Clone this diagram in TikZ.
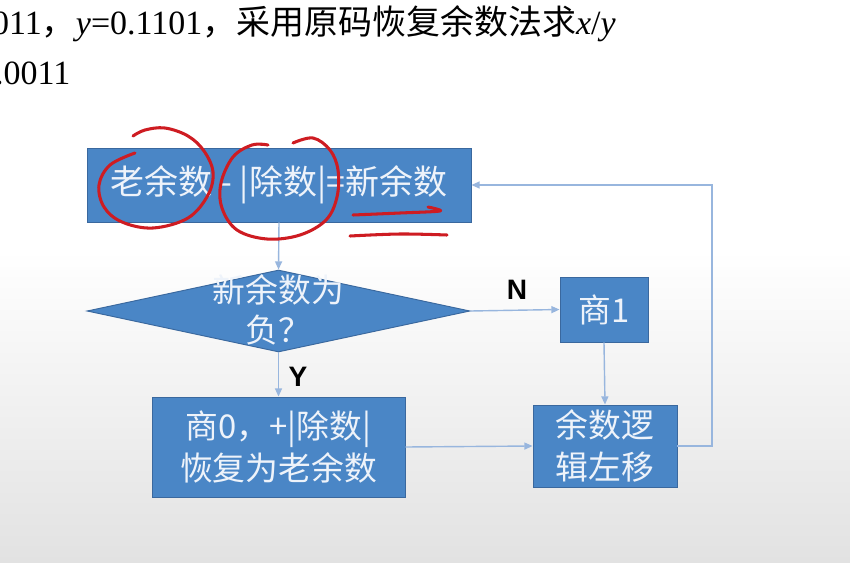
\documentclass[tikz,border=0pt]{standalone}
\usepackage{fontspec}
\setmainfont{Liberation Serif}
\newfontfamily\cjk{Noto Sans CJK SC}
\newfontfamily\labelfont{Liberation Sans}
\usetikzlibrary{shapes.geometric,arrows.meta}
\definecolor{boxblue}{RGB}{74,134,198}
\definecolor{boxedge}{RGB}{58,104,158}
\definecolor{flowline}{RGB}{152,182,222}
\definecolor{boxtext}{RGB}{238,243,250}
\definecolor{penred}{RGB}{206,28,34}
\definecolor{bgbottom}{RGB}{226,226,226}
\tikzset{
  stepbox/.style={draw=boxedge, fill=boxblue, text=boxtext, align=center,
    inner sep=0pt, line width=0.8pt, font=\cjk\fontsize{28}{36}\selectfont},
  flow/.style={draw=flowline, line width=1.2pt, -{Triangle[length=7pt,width=6pt]}},
  branch/.style={font=\labelfont\bfseries\fontsize{24}{28}\selectfont},
  pen/.style={draw=penred, line width=2.6pt, line cap=round, line join=round}
}
\begin{document}
\begin{tikzpicture}[x=0.3mm,y=-0.3mm]
\useasboundingbox (0,0) rectangle (850,562);
\fill[white] (0,0) rectangle (850,562);
\shade[top color=white, bottom color=bgbottom] (0,250) rectangle (850,562);

% question text
\node[anchor=base west, inner sep=0pt, font=\fontsize{29}{34}\selectfont] (question) at (-8,34)
  {011{\cjk ，}\textit{y}=0.1101{\cjk ，采用原码恢复余数法求}\textit{x}/\textit{y}};
\node[anchor=base west, inner sep=0pt, font=\fontsize{29}{34}\selectfont] (answer) at (-5,84) {.0011};

% flow chart
\node[stepbox, font=\cjk\fontsize{29}{36}\selectfont, minimum width=115.2mm, minimum height=22.2mm]
  (oldrem) at (279,185) {老余数 - |除数|=新余数};
\node[diamond, draw=boxedge, fill=boxblue, line width=0.8pt, inner sep=0pt,
  minimum width=114.9mm, minimum height=24.6mm] (isneg) at (278.5,311) {};
\node[text=boxtext, align=center, font=\cjk\fontsize{28}{34}\selectfont] (isnegtext) at (278.5,310)
  {新余数为\\负？};
\node[stepbox, minimum width=26.4mm, minimum height=19.5mm] (quo1) at (604,309.5) {商1};
\node[stepbox, minimum width=75.9mm, minimum height=30mm] (restore) at (278.5,447)
  {商0，+|除数|\\恢复为老余数};
\node[stepbox, minimum width=43.2mm, minimum height=24.6mm] (shift) at (605,446)
  {余数逻\\辑左移};
\coordinate (turn) at (712,185);

\draw[flow] (oldrem.south) -- (isneg.north);
\draw[flow] (isneg.south) -- (restore.north);
\draw[flow] (isneg.east) -- (quo1.west);
\draw[flow] (quo1.south) -- (shift.north);
\draw[flow] (restore.east) -- (shift.west);
\draw[flow] (shift.east) -| (turn) -- (oldrem.east);
\node[branch] (nlabel) at (517,290) {N};
\node[branch] (ylabel) at (298,377) {Y};

% red pen marks
\draw[pen] plot[smooth, tension=0.6] coordinates {(135,153) (110,165) (99,185) (104,207) (122,222)
  (153,228) (188,218) (208,195) (213,172) (204,151) (188,136) (165,128) (145,130) (133,136)};
\draw[pen] plot[smooth, tension=0.6] coordinates {(268,145) (252,145) (233,157) (221,183) (222,208)
  (237,230) (267,239) (300,235) (326,220) (337,197) (338,170) (330,150) (313,138) (293,143)};
\draw[pen] plot[smooth, tension=0.5] coordinates {(353,215) (400,213) (440,211) (428,207)};
\draw[pen] plot[smooth, tension=0.6] coordinates {(350,236) (400,234) (447,235)};
\end{tikzpicture}
\end{document}
